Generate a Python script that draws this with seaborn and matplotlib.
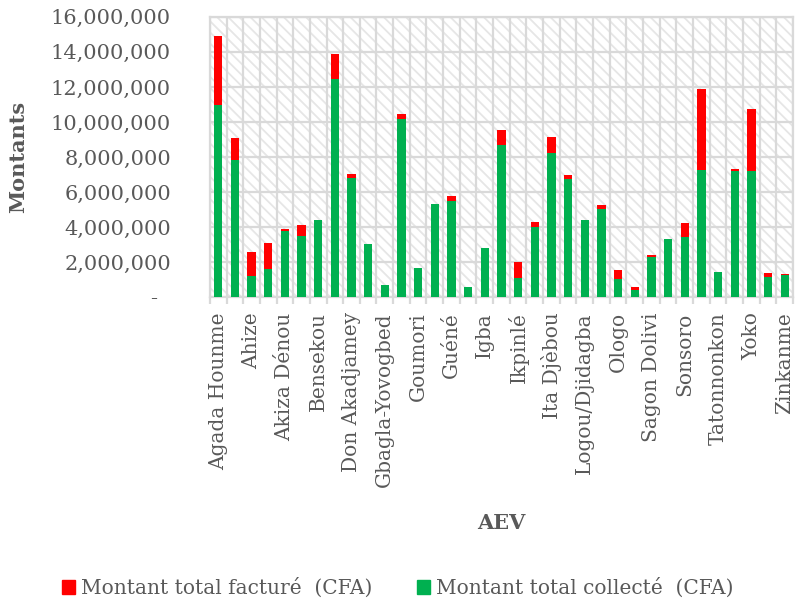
import numpy as np
import pandas as pd
import matplotlib
matplotlib.use("Agg")
import matplotlib.pyplot as plt
from matplotlib.patches import Rectangle, Patch
from matplotlib.ticker import FuncFormatter, MultipleLocator
import seaborn as sns

# one bar per AEV; only every other name is shown on the axis
tick_names = ['Agada Hounme', 'Ahize', 'Akiza Dénou', 'Bensekou', 'Don Akadjamey',
              'Gbagla-Yovogbed', 'Goumori', 'Guéné', 'Igba', 'Ikpinlé', 'Ita Djèbou',
              'Logou/Djidagba', 'Ologo', 'Sagon Dolivi', 'Sonsoro', 'Tatonnonkon',
              'Yoko', 'Zinkanme']

facture = [14.90, 9.09, 2.55, 3.10, 3.90, 4.11, 4.42, 13.87, 7.03, 3.05, 0.69,
           10.46, 1.64, 5.31, 5.79, 0.57, 2.78, 9.56, 1.98, 4.30, 9.14, 6.95,
           4.40, 5.28, 1.54, 0.57, 2.42, 3.33, 4.23, 11.89, 1.41, 7.31, 10.74,
           1.37, 1.31]
collecte = [10.99, 7.85, 1.22, 1.62, 3.77, 3.47, 4.42, 12.46, 6.82, 3.05, 0.69,
            10.19, 1.64, 5.31, 5.47, 0.57, 2.78, 8.69, 1.10, 4.00, 8.23, 6.76,
            4.40, 5.01, 1.01, 0.38, 2.27, 3.33, 3.45, 7.26, 1.41, 7.22, 7.18,
            1.16, 1.24]

label_fact = 'Montant total facturé  (CFA)'
label_coll = 'Montant total collecté  (CFA)'

df = pd.DataFrame({
    'pos': np.arange(len(facture)),
    'facture': np.array(facture) * 1e6,
    'collecte': np.array(collecte) * 1e6,
})

sns.set_theme(style='white')
plt.rcParams['font.family'] = ['DejaVu Serif']
plt.rcParams['hatch.linewidth'] = 1.3

grey_txt = '#595959'
grid_c = '#d9d9d9'
red = '#ff0000'
green = '#00b050'

fig = plt.figure(figsize=(7.95, 6.03), dpi=100)
ax = fig.add_axes([0.264, 0.5075, 0.7335, 0.4645])

# hatched plot area background
ax.add_patch(Rectangle((0, 0), 1, 1, transform=ax.transAxes, facecolor='white',
                       edgecolor='#e6e6e6', hatch='\\\\\\', lw=0, zorder=0.1))

sns.barplot(data=df, x='pos', y='facture', color=red, saturation=1, width=0.5,
            errorbar=None, linewidth=0, ax=ax, zorder=2)
sns.barplot(data=df, x='pos', y='collecte', color=green, saturation=1, width=0.5,
            errorbar=None, linewidth=0, ax=ax, zorder=3)

ax.set_xlim(-0.5, len(facture) - 0.5)
ax.set_ylim(0, 16e6)
ax.yaxis.set_major_locator(MultipleLocator(2e6))
ax.yaxis.set_major_formatter(FuncFormatter(
    lambda v, p: '-  ' if v == 0 else f'{v:,.0f}'))

ax.set_xticks(np.arange(0, len(facture), 2))
ax.set_xticklabels(tick_names, rotation=90, fontsize=14.5, color=grey_txt)
ax.set_xticks(np.arange(-0.5, len(facture), 1), minor=True)

ax.set_axisbelow(True)
ax.yaxis.grid(True, color=grid_c, lw=1.6)
ax.xaxis.grid(True, which='minor', color=grid_c, lw=1.6)
ax.xaxis.grid(False, which='major')
for s in ax.spines.values():
    s.set_color(grid_c)
    s.set_linewidth(1.6)

ax.tick_params(axis='y', length=0, pad=28, labelsize=15, labelcolor=grey_txt)
ax.tick_params(axis='x', which='major', length=0, pad=11)
ax.tick_params(axis='x', which='minor', length=5, width=1.6, color=grid_c,
               bottom=True)

ax.set_xlabel('AEV', fontsize=15, fontweight='bold', color=grey_txt)
ax.xaxis.set_label_coords(0.5, -0.77)
ax.set_ylabel('Montants', fontsize=15, fontweight='bold', color=grey_txt)
ax.yaxis.set_label_coords(-0.312, 0.5)

handles = [Patch(color=red, label=label_fact), Patch(color=green, label=label_coll)]
leg = fig.legend(handles=handles, loc='center', bbox_to_anchor=(0.5, 0.025),
                 ncol=2, frameon=False, fontsize=14.5, handlelength=0.65,
                 handleheight=0.65, handletextpad=0.3, columnspacing=2.2)
for t in leg.get_texts():
    t.set_color(grey_txt)

fig.savefig('out.png', dpi=100)
